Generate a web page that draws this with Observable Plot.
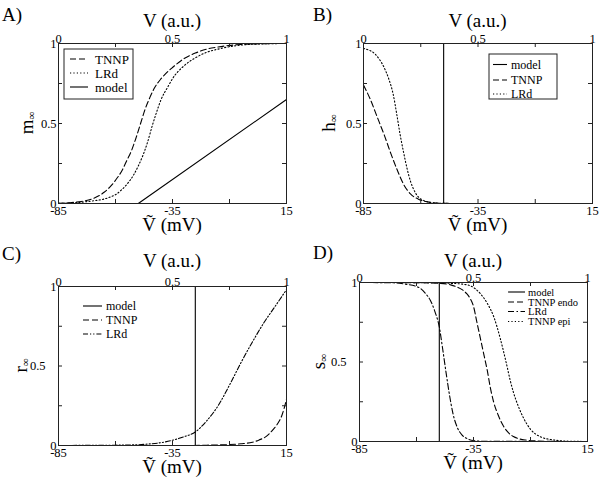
<!DOCTYPE html>
<html><head><meta charset="utf-8">
<script src="https://cdn.jsdelivr.net/npm/d3@7"></script>
<script src="https://cdn.jsdelivr.net/npm/@observablehq/plot@0.6"></script>
<style>
body{margin:0;background:#fff;}
#fig{position:relative;width:600px;height:478px;background:#fff;overflow:hidden;}
.panel{position:absolute;}
</style></head><body><div id="fig"></div>
<script>
// ---------- axis tick data ----------
const X_TICKS = [-85, -60, -35, -10, 15];
const X_LABEL_TICKS = [-85, -35, 15];
const X_BOTTOM_LABELS = ["-85", "-35", "15"];
const X_TOP_LABELS = ["0", "0.5", "1"];
const Y_TICKS = [0, 0.25, 0.5, 0.75, 1];
const Y_LABEL_TICKS = [0, 0.5, 1];
const Y_LABELS = ["0", "0.5", "1"];

// ---------- Panel A: m_inf ----------
const aTnnpV = [-85,-80,-75,-70,-65,-62,-60,-57,-55,-53,-51,-49,-47,-45,-43,-40,-37,-35,-30,-25,-20,-15,-10,-5,0,5,15];
const aTnnpM = [0.002,0.005,0.013,0.03,0.07,0.11,0.145,0.21,0.27,0.33,0.41,0.5,0.59,0.66,0.72,0.78,0.825,0.85,0.905,0.94,0.965,0.978,0.988,0.994,0.997,0.999,1.0];
const aLrdV = [-85,-80,-75,-70,-65,-62,-60,-57,-55,-52,-50,-48,-46,-44,-42,-40,-37,-35,-30,-25,-20,-15,-10,-5,0,5,15];
const aLrdM = [0.001,0.003,0.008,0.016,0.028,0.042,0.055,0.09,0.12,0.18,0.235,0.3,0.38,0.48,0.57,0.65,0.73,0.78,0.86,0.91,0.945,0.965,0.98,0.99,0.995,0.998,1.0];
const aModelV = [-85, -50, 15];
const aModelM = [0, 0, 0.65];

// ---------- Panel B: h_inf ----------
const bModelV = [-85, -50, -50, 15];
const bModelH = [1, 1, 0, 0];
const bTnnpV = [-85,-82,-79,-76,-73,-70,-67.5,-64.5,-61,-57,-53,-50,-40,15];
const bTnnpH = [0.74,0.65,0.54,0.43,0.31,0.2,0.12,0.06,0.027,0.01,0.003,0.001,0,0];
const bLrdV = [-85,-84,-82,-80,-78,-76,-74,-72,-70.5,-69,-67.5,-66,-64.5,-63,-61,-59,-57,-54,-50,-45,15];
const bLrdH = [0.97,0.965,0.955,0.935,0.9,0.85,0.78,0.68,0.56,0.43,0.32,0.22,0.14,0.085,0.04,0.02,0.01,0.003,0.001,0,0];

// ---------- Panel C: r_inf ----------
const cModelV = [-85, -25, -25, 15];
const cModelR = [0, 0, 1, 1];
const cTnnpV = [-85,-30,-20,-10,-5,0,3,6,9,11,13,15];
const cTnnpR = [0,0,0.002,0.006,0.011,0.02,0.035,0.056,0.098,0.135,0.19,0.29];
const cLrdV = [-85,-70,-60,-50,-45,-40,-35,-30,-25,-20,-15,-10,-5,0,5,10,15];
const cLrdR = [0,0.001,0.002,0.005,0.01,0.018,0.033,0.055,0.085,0.155,0.25,0.38,0.52,0.65,0.77,0.875,0.98];

// ---------- Panel D: s_inf ----------
const dModelV = [-85, -50, -50, 15];
const dModelS = [1, 1, 0, 0];
const dEndoV = [-85,-60,-50,-45,-42,-40,-38,-36.5,-35,-33.5,-32,-30.5,-29,-27.7,-26.2,-24,-22,-20,-17.5,-15,-12,-8,-3,5,15];
const dEndoS = [1,0.999,0.995,0.985,0.97,0.955,0.93,0.9,0.85,0.75,0.65,0.55,0.45,0.345,0.25,0.16,0.1,0.06,0.031,0.017,0.009,0.004,0.0015,0.0003,0];
const dLrdV = [-85,-70,-65,-60,-58,-56,-54,-52,-50,-48.5,-47,-45.5,-44,-42,-40,-38,-35,-30,15];
const dLrdS = [1,0.998,0.99,0.975,0.96,0.93,0.89,0.82,0.72,0.58,0.43,0.29,0.175,0.085,0.04,0.02,0.006,0.001,0];
const dEpiV = [-85,-50,-45,-40,-36.5,-32,-29,-26,-23.3,-21.8,-20.4,-19,-17.5,-15.3,-13,-10,-5.7,0,5,10,15];
const dEpiS = [1,0.999,0.995,0.99,0.98,0.93,0.87,0.78,0.65,0.565,0.48,0.39,0.31,0.22,0.146,0.077,0.03,0.01,0.003,0.001,0];

// ---------- styles ----------
const DASH = {
  solid: null,
  dashed: "6,3",
  dotted: "1.2,2.2",
  dashdotdot: "5,2,1.2,2,1.2,2",
  dashdot: "6,2.5,1.5,2.5"
};
const FONT = "Liberation Serif, Times New Roman, serif";
const TICK = 4;
const TICK_FS = 12.5;
const TITLE_FS = 19;

function rows(V, Y) { return V.map((v, i) => ({V: v, y: Y[i]})); }

function makePanel(cfg) {
  const fmtX = (labels) => (d) => labels[X_LABEL_TICKS.indexOf(d)];
  const fmtY = (d) => Y_LABELS[Y_LABEL_TICKS.indexOf(d)];
  const innerW = 300 - cfg.m[0] - cfg.m[1];
  const innerH = cfg.height - cfg.m[2] - cfg.m[3];
  const marks = [];
  for (const s of cfg.series) {
    marks.push(Plot.line(rows(s.V, s.Y), {
      x: "V", y: "y", stroke: "black", strokeWidth: 1.1,
      strokeDasharray: DASH[s.style], curve: s.linear ? "linear" : "monotone-x"
    }));
  }
  // inward ticks on all four sides (short rules anchored at the frame edges)
  marks.push(Plot.ruleX(X_TICKS, {x: d => d, insetTop: innerH - TICK, stroke: "#222"}));
  marks.push(Plot.ruleX(X_TICKS, {x: d => d, insetBottom: innerH - TICK, stroke: "#222"}));
  marks.push(Plot.ruleY(Y_TICKS, {y: d => d, insetRight: innerW - TICK, stroke: "#222"}));
  marks.push(Plot.ruleY(Y_TICKS, {y: d => d, insetLeft: innerW - TICK, stroke: "#222"}));
  marks.push(Plot.frame({stroke: "#222", strokeWidth: 1}));
  // tick labels
  marks.push(Plot.axisX(X_LABEL_TICKS, {anchor: "bottom", tickSize: 0, tickPadding: 3, tickFormat: fmtX(X_BOTTOM_LABELS), label: null, fontSize: TICK_FS}));
  marks.push(Plot.axisX(X_LABEL_TICKS, {anchor: "top", tickSize: 0, tickPadding: 1, tickFormat: fmtX(X_TOP_LABELS), label: null, fontSize: TICK_FS}));
  marks.push(Plot.axisY([0, 1], {anchor: "left", tickSize: 0, tickPadding: 2, tickFormat: fmtY, label: null, fontSize: TICK_FS}));
  marks.push(Plot.axisY([0.5], {anchor: "left", tickSize: 0, tickPadding: cfg.midPad, tickFormat: fmtY, label: null, fontSize: TICK_FS}));

  const svgEl = Plot.plot({
    width: 300, height: cfg.height,
    marginLeft: cfg.m[0], marginRight: cfg.m[1], marginTop: cfg.m[2], marginBottom: cfg.m[3],
    x: {domain: [-85, 15], label: null},
    y: {domain: [0, 1], label: null},
    style: {fontFamily: FONT, fontSize: "13px", background: "white", color: "black", overflow: "visible"},
    marks
  });
  const wrap = document.createElement("div");
  wrap.className = "panel";
  wrap.style.left = cfg.left + "px";
  wrap.style.top = cfg.top + "px";
  wrap.appendChild(svgEl);
  document.getElementById("fig").appendChild(wrap);

  const svg = d3.select(svgEl);
  const cx = cfg.m[0] + innerW / 2;
  const g = svg.append("g").attr("font-family", FONT).attr("fill", "black");
  g.append("text").attr("x", cfg.letter[0]).attr("y", cfg.letter[1]).attr("text-anchor", "start").attr("font-size", TITLE_FS).text(cfg.letterText);
  g.append("text").attr("x", cx).attr("y", cfg.topTitleY).attr("text-anchor", "middle").attr("font-size", TITLE_FS).text("V (a.u.)");
  g.append("text").attr("x", cx).attr("y", cfg.bottomTitleY).attr("text-anchor", "middle").attr("font-size", TITLE_FS).text("V\u0303 (mV)");
  const yl = g.append("text")
    .attr("transform", `translate(${cfg.ylab[0]},${cfg.ylab[1]}) rotate(-90)`)
    .attr("text-anchor", "middle").attr("font-size", TITLE_FS);
  yl.append("tspan").text(cfg.ylabText);
  yl.append("tspan").attr("font-size", 11).attr("dy", 2).text("\u221e");

  // legend
  const L = cfg.legend;
  const lg = svg.append("g").attr("font-family", FONT);
  if (L.box) {
    lg.append("rect").attr("x", L.box[0]).attr("y", L.box[1]).attr("width", L.box[2]).attr("height", L.box[3])
      .attr("fill", "white").attr("stroke", "#222").attr("stroke-width", 1);
  }
  L.items.forEach((it, i) => {
    const y = L.rows[i];
    lg.append("line").attr("x1", L.line[0]).attr("x2", L.line[1]).attr("y1", y).attr("y2", y)
      .attr("stroke", "black").attr("stroke-width", 1.1)
      .attr("stroke-dasharray", DASH[it.style]);
    lg.append("text").attr("x", L.textX).attr("y", y + L.fs * 0.35).attr("text-anchor", "start")
      .attr("font-size", L.fs).attr("fill", "black").text(it.name);
  });
}

makePanel({
  left: 0, top: 0, height: 240, m: [58, 14, 43, 37], midPad: 2,
  letter: [2, 21], letterText: "A)", topTitleY: 27, bottomTitleY: 231, ylab: [33, 123], ylabText: "m",
  series: [
    {V: aTnnpV, Y: aTnnpM, style: "dashed"},
    {V: aLrdV, Y: aLrdM, style: "dotted"},
    {V: aModelV, Y: aModelM, style: "solid", linear: true}
  ],
  legend: {box: [64, 49, 69, 50], line: [70, 88], textX: 95, rows: [59, 73, 87], fs: 13,
    items: [{name: "TNNP", style: "dashed"}, {name: "LRd", style: "dotted"}, {name: "model", style: "solid"}]}
});

makePanel({
  left: 300, top: 0, height: 240, m: [63, 8, 43, 37], midPad: 2,
  letter: [13, 21], letterText: "B)", topTitleY: 27, bottomTitleY: 231, ylab: [35, 123], ylabText: "h",
  series: [
    {V: bModelV, Y: bModelH, style: "solid", linear: true},
    {V: bTnnpV, Y: bTnnpH, style: "dashed"},
    {V: bLrdV, Y: bLrdH, style: "dotted"}
  ],
  legend: {box: [189, 54, 68, 45], line: [193, 207], textX: 211, rows: [64.5, 80, 94], fs: 12,
    items: [{name: "model", style: "solid"}, {name: "TNNP", style: "dashed"}, {name: "LRd", style: "dotted"}]}
});

makePanel({
  left: 0, top: 240, height: 238, m: [58, 14, 46, 33], midPad: 13,
  letter: [2, 20], letterText: "C)", topTitleY: 27, bottomTitleY: 233, ylab: [27, 125.5], ylabText: "r",
  series: [
    {V: cModelV, Y: cModelR, style: "solid", linear: true},
    {V: cTnnpV, Y: cTnnpR, style: "dashed"},
    {V: cLrdV, Y: cLrdR, style: "dashdotdot"}
  ],
  legend: {box: null, line: [83, 102], textX: 106, rows: [66, 80, 94], fs: 12,
    items: [{name: "model", style: "solid"}, {name: "TNNP", style: "dashed"}, {name: "LRd", style: "dashdotdot"}]}
});

makePanel({
  left: 300, top: 240, height: 238, m: [59, 13, 42, 37], midPad: 13,
  letter: [13, 19], letterText: "D)", topTitleY: 27, bottomTitleY: 229, ylab: [25, 121.5], ylabText: "s",
  series: [
    {V: dModelV, Y: dModelS, style: "solid", linear: true},
    {V: dEndoV, Y: dEndoS, style: "dashed"},
    {V: dLrdV, Y: dLrdS, style: "dashdot"},
    {V: dEpiV, Y: dEpiS, style: "dotted"}
  ],
  legend: {box: null, line: [208, 225], textX: 228, rows: [52, 62, 71.5, 81.5], fs: 10.5,
    items: [{name: "model", style: "solid"}, {name: "TNNP endo", style: "dashed"}, {name: "LRd", style: "dashdot"}, {name: "TNNP epi", style: "dotted"}]}
});
</script>
</body></html>
